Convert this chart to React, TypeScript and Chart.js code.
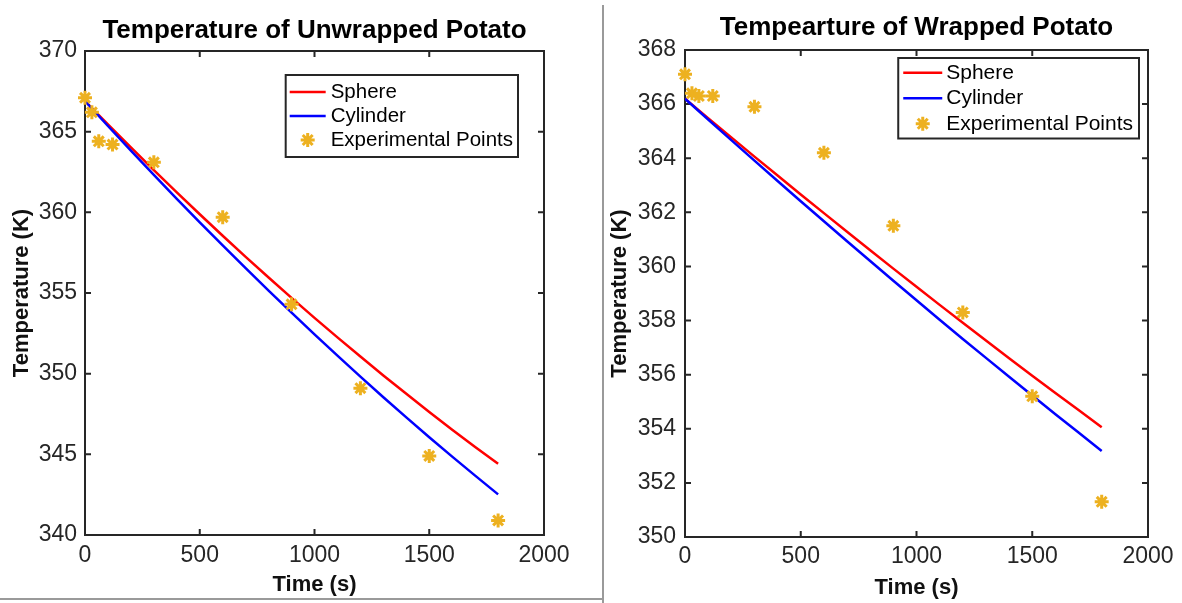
import React, { useEffect, useRef } from 'react';
import { Chart, registerables } from 'chart.js';

Chart.register(...registerables);

const FONT = '"Liberation Sans", Arial, Helvetica, sans-serif';

// ---------- data ----------
const seriesLabels = ['Sphere', 'Cylinder', 'Experimental Points'];

const modelTimes = [0, 100, 200, 300, 400, 500, 600, 700, 800, 900, 1000, 1100, 1200, 1300, 1400, 1500, 1600, 1700, 1800];

const unwrappedSphere = [366.9, 365.45, 364.02, 362.62, 361.24, 359.88, 358.55, 357.24, 355.96, 354.7, 353.46, 352.25, 351.06, 349.89, 348.75, 347.63, 346.53, 345.46, 344.41];
const unwrappedCylinder = [366.9, 365.35, 363.82, 362.32, 360.84, 359.38, 357.95, 356.54, 355.15, 353.78, 352.44, 351.12, 349.82, 348.54, 347.29, 346.06, 344.86, 343.68, 342.52];

const wrappedSphere = [366.2, 365.48, 364.77, 364.06, 363.36, 362.66, 361.97, 361.28, 360.6, 359.92, 359.25, 358.58, 357.92, 357.26, 356.61, 355.96, 355.32, 354.69, 354.06];
const wrappedCylinder = [366.2, 365.43, 364.67, 363.91, 363.16, 362.41, 361.67, 360.93, 360.2, 359.47, 358.75, 358.03, 357.32, 356.62, 355.92, 355.23, 354.54, 353.86, 353.18];

const expTimes = [0, 30, 60, 120, 300, 600, 900, 1200, 1500, 1800];
const unwrappedExp = [367.1, 366.2, 364.4, 364.2, 363.1, 359.7, 354.3, 349.1, 344.9, 340.9];
const wrappedExp = [367.1, 366.4, 366.3, 366.3, 365.9, 364.2, 361.5, 358.3, 355.2, 351.3];

const xTicks = [0, 500, 1000, 1500, 2000];
const unwrappedYTicks = [340, 345, 350, 355, 360, 365, 370];
const wrappedYTicks = [350, 352, 354, 356, 358, 360, 362, 364, 366, 368];

// ---------- styles ----------
const SPHERE_COLOR = 'rgb(255,0,0)';
const CYLINDER_COLOR = 'rgb(0,0,255)';
const EXP_COLOR = '#EDB120';
const AXIS_COLOR = '#262626';

function drawStar(ctx: CanvasRenderingContext2D, x: number, y: number, r: number) {
  ctx.beginPath();
  ctx.moveTo(x - r, y); ctx.lineTo(x + r, y);
  ctx.moveTo(x, y - r); ctx.lineTo(x, y + r);
  const d = r * Math.SQRT1_2;
  ctx.moveTo(x - d, y - d); ctx.lineTo(x + d, y + d);
  ctx.moveTo(x - d, y + d); ctx.lineTo(x + d, y - d);
  ctx.stroke();
}

const matlabAxesPlugin = {
  id: 'matlabAxes',
  beforeDatasetsDraw(chart: any) {
    const { ctx, chartArea: a, scales } = chart;
    const L = 6;
    ctx.save();
    ctx.strokeStyle = AXIS_COLOR;
    ctx.lineWidth = 2;
    ctx.beginPath();
    for (const t of scales.x.ticks) {
      const px = scales.x.getPixelForValue(t.value);
      ctx.moveTo(px, a.bottom); ctx.lineTo(px, a.bottom - L);
      ctx.moveTo(px, a.top); ctx.lineTo(px, a.top + L);
    }
    for (const t of scales.y.ticks) {
      const py = scales.y.getPixelForValue(t.value);
      ctx.moveTo(a.left, py); ctx.lineTo(a.left + L, py);
      ctx.moveTo(a.right, py); ctx.lineTo(a.right - L, py);
    }
    ctx.stroke();
    ctx.strokeRect(a.left, a.top, a.right - a.left, a.bottom - a.top);
    ctx.restore();
  },
};

const boxLegendPlugin = {
  id: 'boxLegend',
  afterDraw(chart: any, _args: any, o: any) {
    const { ctx, chartArea: a } = chart;
    const datasets = chart.data.datasets;
    ctx.save();
    ctx.font = `${o.fontSize}px ${FONT}`;
    const textW = Math.max(...datasets.map((ds: any) => ctx.measureText(ds.label).width));
    const w = o.padLeft + o.lineLength + o.gap + textW + o.padRight;
    const h = o.rowHeight * datasets.length + o.padV * 2;
    const right = a.right - o.offsetRight;
    const left = right - w;
    const top = a.top + o.offsetTop;
    ctx.fillStyle = '#fff';
    ctx.fillRect(left, top, w, h);
    ctx.strokeStyle = AXIS_COLOR;
    ctx.lineWidth = 2;
    ctx.strokeRect(left, top, w, h);
    datasets.forEach((ds: any, i: number) => {
      const cy = top + o.padV + o.rowHeight * (i + 0.5);
      const x0 = left + o.padLeft;
      const x1 = x0 + o.lineLength;
      if (ds.showLine) {
        ctx.strokeStyle = ds.borderColor;
        ctx.lineWidth = ds.borderWidth;
        ctx.beginPath();
        ctx.moveTo(x0, cy); ctx.lineTo(x1, cy);
        ctx.stroke();
      } else {
        ctx.strokeStyle = ds.pointBorderColor;
        ctx.lineWidth = ds.pointBorderWidth;
        drawStar(ctx, (x0 + x1) / 2, cy, ds.pointRadius);
      }
      ctx.fillStyle = '#000';
      ctx.textAlign = 'left';
      ctx.textBaseline = 'middle';
      ctx.fillText(ds.label, x1 + o.gap, cy);
    });
    ctx.restore();
  },
};

type PanelCfg = {
  left: number; width: number; title: string;
  sphere: number[]; cylinder: number[]; exp: number[]; yTicks: number[];
  yAxisWidth: number; padRight: number; xAxisHeight: number;
  titlePad: { top: number; bottom: number };
  yTitlePad: number; xTitlePad: number; yTickPad: number; xTickPad: number;
  legend: any;
};

const panels: PanelCfg[] = [
  {
    left: 0, width: 600, title: 'Temperature of Unwrapped Potato',
    sphere: unwrappedSphere, cylinder: unwrappedCylinder, exp: unwrappedExp, yTicks: unwrappedYTicks,
    yAxisWidth: 85, padRight: 56, xAxisHeight: 68,
    titlePad: { top: 15, bottom: 4.8 },
    yTitlePad: 9, xTitlePad: 5, yTickPad: 8, xTickPad: 7,
    legend: { offsetRight: 26, offsetTop: 24, rowHeight: 24, padV: 5, padLeft: 4, lineLength: 36, gap: 5, padRight: 5, fontSize: 20.5 },
  },
  {
    left: 605, width: 577, title: 'Tempearture of Wrapped Potato',
    sphere: wrappedSphere, cylinder: wrappedCylinder, exp: wrappedExp, yTicks: wrappedYTicks,
    yAxisWidth: 80, padRight: 34, xAxisHeight: 66,
    titlePad: { top: 12, bottom: 6.8 },
    yTitlePad: 2, xTitlePad: 2, yTickPad: 9, xTickPad: 6,
    legend: { offsetRight: 9, offsetTop: 8, rowHeight: 25.5, padV: 2, padLeft: 5, lineLength: 39, gap: 4, padRight: 6, fontSize: 21 },
  },
];

function Panel({ cfg }: { cfg: PanelCfg }) {
  const ref = useRef<HTMLCanvasElement>(null);
  useEffect(() => {
    const yMin = cfg.yTicks[0];
    const yMax = cfg.yTicks[cfg.yTicks.length - 1];
    const chart = new Chart(ref.current as HTMLCanvasElement, {
      type: 'scatter',
      data: {
        datasets: [
          {
            label: seriesLabels[0],
            data: modelTimes.map((t, i) => ({ x: t, y: cfg.sphere[i] })),
            showLine: true, borderColor: SPHERE_COLOR, borderWidth: 2.5, pointRadius: 0, order: 3,
          },
          {
            label: seriesLabels[1],
            data: modelTimes.map((t, i) => ({ x: t, y: cfg.cylinder[i] })),
            showLine: true, borderColor: CYLINDER_COLOR, borderWidth: 2.5, pointRadius: 0, order: 2,
          },
          {
            label: seriesLabels[2],
            data: expTimes.map((t, i) => ({ x: t, y: cfg.exp[i] })),
            showLine: false, pointStyle: 'star', pointRadius: 7, pointBorderWidth: 3,
            pointBorderColor: EXP_COLOR, pointBackgroundColor: EXP_COLOR, clip: false, order: 1,
          },
        ] as any,
      },
      options: {
        responsive: false,
        animation: false,
        devicePixelRatio: 1,
        events: [],
        layout: { padding: { left: 0, right: cfg.padRight, top: 0, bottom: 0 } },
        plugins: {
          legend: { display: false },
          tooltip: { enabled: false },
          title: {
            display: true, text: cfg.title, fullSize: false, color: '#000',
            font: { family: FONT, size: 26, weight: 'bold', lineHeight: 1.2 },
            padding: cfg.titlePad,
          },
          boxLegend: cfg.legend,
        } as any,
        scales: {
          x: {
            type: 'linear', min: xTicks[0], max: xTicks[xTicks.length - 1],
            afterBuildTicks: (s: any) => { s.ticks = xTicks.map((v) => ({ value: v })); },
            afterFit: (s: any) => { s.height = cfg.xAxisHeight; },
            grid: { display: false, drawTicks: false },
            border: { display: false },
            ticks: {
              font: { family: FONT, size: 23, lineHeight: 1.2 }, color: AXIS_COLOR, padding: cfg.xTickPad,
              maxRotation: 0, autoSkip: false, callback: (v: any) => String(v),
            },
            title: {
              display: true, text: 'Time (s)', color: '#111',
              font: { family: FONT, size: 22, weight: 'bold', lineHeight: 1.2 },
              padding: { top: 0, bottom: cfg.xTitlePad },
            },
          },
          y: {
            type: 'linear', min: yMin, max: yMax,
            afterBuildTicks: (s: any) => { s.ticks = cfg.yTicks.map((v) => ({ value: v })); },
            afterFit: (s: any) => { s.width = cfg.yAxisWidth; },
            grid: { display: false, drawTicks: false },
            border: { display: false },
            ticks: {
              font: { family: FONT, size: 23, lineHeight: 1.2 }, color: AXIS_COLOR, padding: cfg.yTickPad,
              autoSkip: false, callback: (v: any) => String(v),
            },
            title: {
              display: true, text: 'Temperature (K)', color: '#111',
              font: { family: FONT, size: 22, weight: 'bold', lineHeight: 1.2 },
              padding: { top: cfg.yTitlePad, bottom: 0 },
            },
          },
        } as any,
      },
      plugins: [matlabAxesPlugin, boxLegendPlugin] as any,
    });
    return () => chart.destroy();
  }, [cfg]);
  return (
    <canvas
      ref={ref}
      width={cfg.width}
      height={603}
      style={{ position: 'absolute', left: cfg.left, top: 0, width: cfg.width, height: 603 }}
    />
  );
}

export default function App() {
  return (
    <div style={{ position: 'fixed', left: 0, top: 0, width: 1182, height: 603, background: '#fff', overflow: 'hidden' }}>
      {panels.map((p, i) => (
        <Panel key={i} cfg={p} />
      ))}
      <div style={{ position: 'absolute', left: 602, top: 5, width: 2, height: 598, background: '#9a9a9a' }} />
      <div style={{ position: 'absolute', left: 0, top: 598, width: 603, height: 2, background: '#9a9a9a' }} />
    </div>
  );
}
